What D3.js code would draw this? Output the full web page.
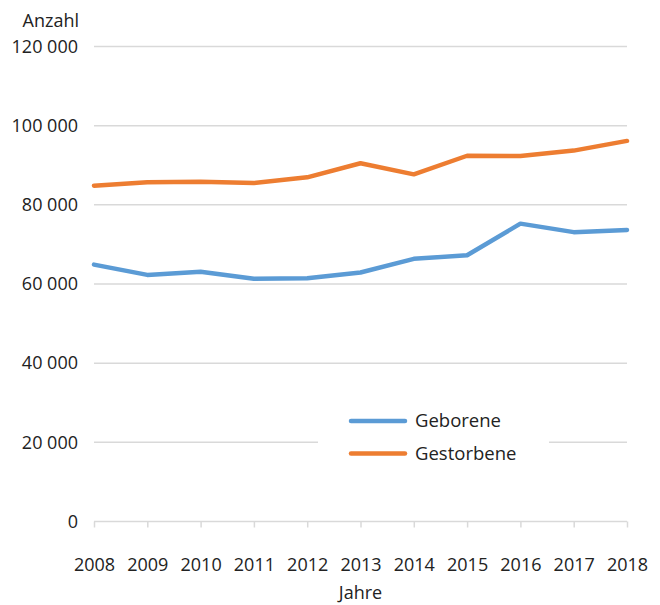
<!DOCTYPE html>
<html>
<head>
<meta charset="utf-8">
<script src="https://cdn.jsdelivr.net/npm/d3@7"></script>
<style>
  body { margin: 0; background: #fff; }
  text { font-family: "Open Sans", sans-serif; fill: #222; }
</style>
</head>
<body>
<div id="chart"></div>
<script>
// Daten
const jahre = [2008, 2009, 2010, 2011, 2012, 2013, 2014, 2015, 2016, 2017, 2018];
const geborene = [64900, 62300, 63100, 61300, 61450, 62900, 66350, 67250, 75250, 73100, 73650];
const gestorbene = [84850, 85700, 85850, 85500, 86950, 90500, 87700, 92400, 92350, 93700, 96150];
const yTicks = [0, 20000, 40000, 60000, 80000, 100000, 120000];

const width = 660;
const height = 605;
const margin = { left: 94, right: 33, top: 46, bottom: 83 };
const fontSize = '18px';

const svg = d3.select('#chart')
  .append('svg')
  .attr('width', width)
  .attr('height', height);

const x = d3.scalePoint()
  .domain(jahre)
  .range([margin.left, width - margin.right]);

const y = d3.scaleLinear()
  .domain([0, 120000])
  .range([height - margin.bottom - 0.5, margin.top + 0.5]);

const fmt = (d) => d3.format(',')(d).replace(/,/g, ' ');

// Gitternetz
svg.append('g')
  .selectAll('line')
  .data(yTicks.filter(d => d > 0))
  .enter()
  .append('line')
  .attr('x1', margin.left)
  .attr('x2', width - margin.right)
  .attr('y1', d => y(d))
  .attr('y2', d => y(d))
  .attr('stroke', '#d9d9d9')
  .attr('stroke-width', 1.5);

// y-Achse Beschriftung
svg.append('g')
  .selectAll('text')
  .data(yTicks)
  .enter()
  .append('text')
  .attr('x', 78)
  .attr('y', d => y(d))
  .attr('dy', '0.35em')
  .attr('text-anchor', 'end')
  .style('font-size', fontSize)
  .text(d => fmt(d));

svg.append('text')
  .attr('x', 79)
  .attr('y', 27)
  .attr('text-anchor', 'end')
  .style('font-size', fontSize)
  .text('Anzahl');

// x-Achse
const xAxis = svg.append('g')
  .attr('transform', `translate(0, ${y(0)})`)
  .call(d3.axisBottom(x).tickSize(6).tickPadding(31));

xAxis.select('.domain')
  .attr('stroke', '#d9d9d9')
  .attr('stroke-width', 1.5)
  .attr('d', `M${margin.left},0H${width - margin.right}`);
xAxis.selectAll('.tick line')
  .attr('stroke', '#d9d9d9')
  .attr('stroke-width', 1.5);
xAxis.selectAll('.tick text')
  .style('font-size', fontSize)
  .style('font-family', '"Open Sans", sans-serif')
  .attr('fill', '#222');

svg.append('text')
  .attr('x', (margin.left + width - margin.right) / 2)
  .attr('y', 599)
  .attr('text-anchor', 'middle')
  .style('font-size', fontSize)
  .text('Jahre');

// Linien
const series = [
  { name: 'Geborene', values: geborene, color: '#5b9bd5' },
  { name: 'Gestorbene', values: gestorbene, color: '#ed7d31' }
];

const line = d3.line()
  .x((d, i) => x(jahre[i]))
  .y(d => y(d));

svg.append('g')
  .selectAll('path')
  .data(series)
  .enter()
  .append('path')
  .attr('d', d => line(d.values))
  .attr('fill', 'none')
  .attr('stroke', d => d.color)
  .attr('stroke-width', 4.5)
  .attr('stroke-linejoin', 'round')
  .attr('stroke-linecap', 'round');

// Legende
const legend = svg.append('g').attr('class', 'legend');
legend.append('rect')
  .attr('x', 318)
  .attr('y', 400)
  .attr('width', 231)
  .attr('height', 72)
  .attr('fill', '#fff');

const legendItem = legend.selectAll('.item')
  .data(series)
  .enter()
  .append('g')
  .attr('transform', (d, i) => `translate(0, ${421 + i * 32.5})`);

legendItem.append('line')
  .attr('x1', 351)
  .attr('x2', 405)
  .attr('stroke', d => d.color)
  .attr('stroke-width', 4.5)
  .attr('stroke-linecap', 'round');

legendItem.append('text')
  .attr('x', 415)
  .attr('dy', '0.35em')
  .style('font-size', '18.5px')
  .text(d => d.name);
</script>
</body>
</html>
